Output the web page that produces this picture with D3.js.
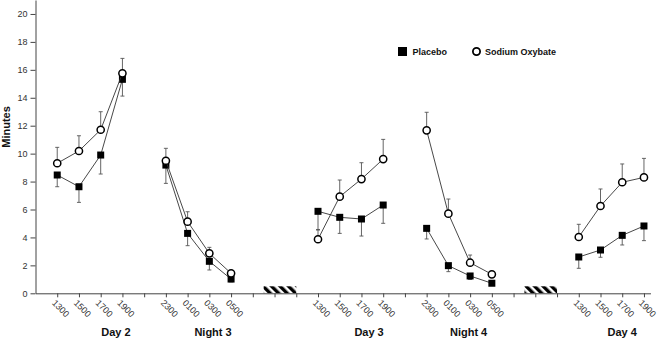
<!DOCTYPE html>
<html>
<head>
<meta charset="utf-8">
<script src="https://cdn.jsdelivr.net/npm/d3@7"></script>
<style>
  body { margin: 0; background: #fff; }
  svg { display: block; font-family: "Liberation Sans", Arial, sans-serif; }
</style>
</head>
<body>
<div id="chart"></div>
<script>
// time slots along the x axis (blank = spacer slot)
const timeLabels = ["1300", "1500", "1700", "1900", "",
                    "2300", "0100", "0300", "0500", "", "", "",
                    "1300", "1500", "1700", "1900", "",
                    "2300", "0100", "0300", "0500", "", "", "",
                    "1300", "1500", "1700", "1900"];

// segments of connected points (slot indices)
const segments = [[0, 1, 2, 3], [5, 6, 7, 8], [12, 13, 14, 15], [17, 18, 19, 20], [24, 25, 26, 27]];

const placebo = [8.47, 7.63, 9.9, 15.32,  9.18, 4.29, 2.29, 1.02,  5.87, 5.44, 5.32, 6.32,
                 4.65, 1.98, 1.24, 0.72,  2.6, 3.1, 4.15, 4.82];
const placeboErr = [0.84, 1.12, 1.36, 1.2,  1.31, 0.88, 0.62, 0.2,  1.34, 1.15, 1.22, 1.31,
                    0.76, 0.43, 0.25, 0.1,  0.81, 0.52, 0.69, 1.05];

const oxybate = [9.31, 10.19, 11.71, 15.75,  9.49, 5.13, 2.86, 1.43,  3.87, 6.92, 8.18, 9.61,
                 11.67, 5.7, 2.19, 1.36,  4.03, 6.25, 7.95, 8.3];
const oxybateErr = [1.14, 1.09, 1.29, 1.07,  0.89, 0.71, 0.43, 0.15,  0.7, 1.19, 1.17, 1.41,
                    1.29, 1.05, 0.55, 0.1,  0.91, 1.22, 1.31, 1.36];

const groupNames = ["Day 2", "Night 3", "Day 3", "Night 4", "Day 4"];
const groupLabelAt = [2.7, 7.17, 14.35, 18.93, 26.0];

// sleep periods (hatched), in slot units
const sleepBlocks = [[9.5, 11], [21.5, 23]];

const yTicks = d3.range(0, 21, 2);

const width = 657, height = 340;

const svg = d3.select("#chart").append("svg")
    .attr("width", width)
    .attr("height", height);

const x = d3.scaleLinear().domain([-1, 27.6]).range([35.5, 657]);
const y = d3.scaleLinear().domain([0, 21]).range([293.3, 0]);

// hatch pattern
const defs = svg.append("defs");
const pat = defs.append("pattern")
    .attr("id", "hatch")
    .attr("patternUnits", "userSpaceOnUse")
    .attr("width", 6).attr("height", 6)
    .attr("patternTransform", "rotate(-45)");
pat.append("rect").attr("width", 6).attr("height", 6).attr("fill", "#fff");
pat.append("rect").attr("width", 3.4).attr("height", 6).attr("fill", "#000");

svg.selectAll(".sleep")
    .data(sleepBlocks)
    .enter().append("rect")
    .attr("x", d => x(d[0]))
    .attr("y", y(0) - 7)
    .attr("width", d => x(d[1]) - x(d[0]))
    .attr("height", 7)
    .attr("fill", "url(#hatch)");

// y axis
const yAxis = svg.append("g")
    .attr("transform", `translate(${x(-1)},0)`)
    .call(d3.axisLeft(y).tickValues(yTicks).tickSize(5).tickSizeOuter(0).tickPadding(3));
yAxis.select(".domain").attr("stroke", "#444");
yAxis.selectAll(".tick line").attr("stroke", "#444");
yAxis.selectAll("text").style("font-size", "9px").style("fill", "#333");

// x axis (stops a little short of the right edge)
const xAxis = svg.append("g")
    .attr("transform", `translate(0,${y(0)})`)
    .call(d3.axisBottom(x.copy().domain([-1, 27.3]).range([35.5, x(27.3)]))
        .tickValues(d3.range(timeLabels.length))
        .tickFormat(i => timeLabels[i])
        .tickSize(4)
        .tickSizeOuter(0));
xAxis.select(".domain").attr("stroke", "#444");
xAxis.selectAll(".tick line").attr("stroke", "#444");
xAxis.selectAll("text")
    .attr("y", 0).attr("dy", "0.35em")
    .attr("text-anchor", "start")
    .attr("transform", "translate(-4,8) rotate(45)")
    .style("font-size", "9px")
    .style("fill", "#333");

// group labels
svg.selectAll(".group")
    .data(groupNames)
    .enter().append("text")
    .attr("x", (d, i) => x(groupLabelAt[i]))
    .attr("y", 336)
    .attr("text-anchor", "middle")
    .style("font-size", "11px")
    .style("font-weight", "bold")
    .attr("fill", "#111")
    .text(d => d);

// y label
svg.append("text")
    .attr("transform", "translate(9.5,127) rotate(-90)")
    .attr("text-anchor", "middle")
    .style("font-size", "11px")
    .style("font-weight", "bold")
    .attr("fill", "#111")
    .text("Minutes");

// build point tables
const slots = segments.flat();
const placeboPts = slots.map((s, i) => ({ s, v: placebo[i], e: placeboErr[i] }));
const oxyPts = slots.map((s, i) => ({ s, v: oxybate[i], e: oxybateErr[i] }));

const line = d3.line().x(d => x(d.s)).y(d => y(d.v));

function drawSeries(pts, dir, cls) {
    const g = svg.append("g").attr("class", cls);
    // error bars
    pts.forEach(d => {
        const y0 = y(d.v), y1 = y(d.v + dir * d.e);
        g.append("line")
            .attr("x1", x(d.s)).attr("x2", x(d.s))
            .attr("y1", y0).attr("y2", y1)
            .attr("stroke", "#555").attr("stroke-width", 0.9);
        g.append("line")
            .attr("x1", x(d.s) - 2).attr("x2", x(d.s) + 2)
            .attr("y1", y1).attr("y2", y1)
            .attr("stroke", "#555").attr("stroke-width", 0.9);
    });
    // lines per segment
    segments.forEach(seg => {
        g.append("path")
            .datum(pts.filter(d => seg.includes(d.s)))
            .attr("d", line)
            .attr("fill", "none")
            .attr("stroke", "#333")
            .attr("stroke-width", 0.9);
    });
    return g;
}

const gP = drawSeries(placeboPts, -1, "placebo");
const gO = drawSeries(oxyPts, 1, "oxybate");

gP.selectAll("rect.pt")
    .data(placeboPts)
    .enter().append("rect")
    .attr("class", "pt")
    .attr("x", d => x(d.s) - 3.5)
    .attr("y", d => y(d.v) - 3.5)
    .attr("width", 7).attr("height", 7)
    .attr("fill", "#000");

gO.selectAll("circle.pt")
    .data(oxyPts)
    .enter().append("circle")
    .attr("class", "pt")
    .attr("cx", d => x(d.s))
    .attr("cy", d => y(d.v))
    .attr("r", 3.6)
    .attr("fill", "#fff")
    .attr("stroke", "#000")
    .attr("stroke-width", 1.5);

// legend
const legend = svg.append("g");
legend.append("rect")
    .attr("x", 398).attr("y", 47).attr("width", 9).attr("height", 9)
    .attr("fill", "#000");
legend.append("text")
    .attr("x", 412.5).attr("y", 55)
    .style("font-size", "9px").style("font-weight", "bold").attr("fill", "#111")
    .text("Placebo");
legend.append("circle")
    .attr("cx", 476.5).attr("cy", 51.5).attr("r", 3.6)
    .attr("fill", "#fff").attr("stroke", "#000").attr("stroke-width", 1.8);
legend.append("text")
    .attr("x", 485).attr("y", 55)
    .style("font-size", "9px").style("font-weight", "bold").attr("fill", "#111")
    .text("Sodium Oxybate");
</script>
</body>
</html>
